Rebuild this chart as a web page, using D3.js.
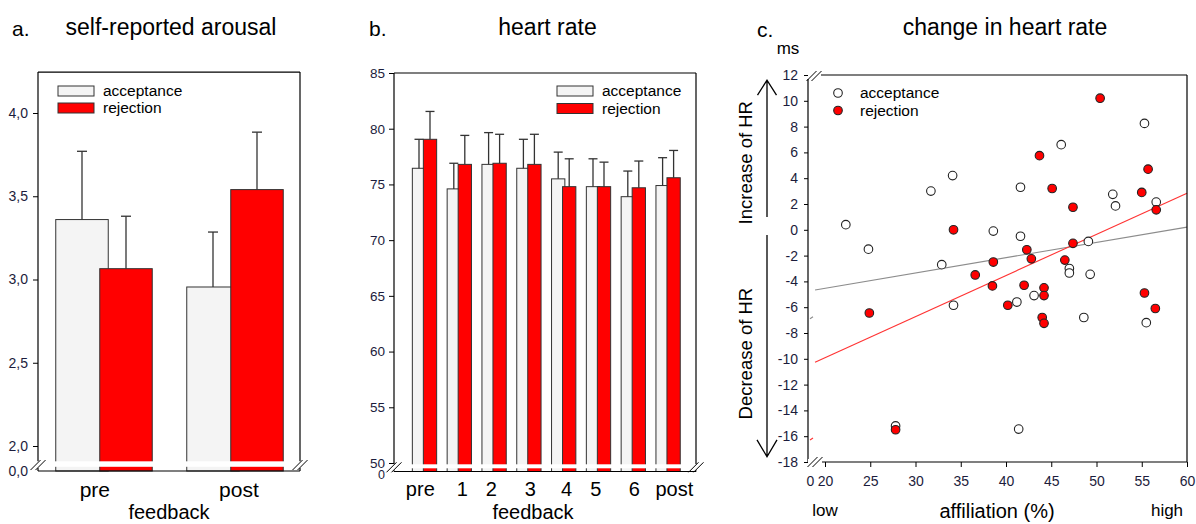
<!DOCTYPE html>
<html><head><meta charset="utf-8">
<script src="https://cdn.jsdelivr.net/npm/d3@7"></script>
<style>
body{margin:0;background:#fff}
svg{display:block}
text{font-family:"Liberation Sans",Arial,sans-serif;fill:#000}
.tick text{fill:#1c1c3c}
</style>
</head><body>
<svg id="c" width="1196" height="524"></svg>
<script>
// ---------- Panel a: self-reported arousal ----------
const groupsA = ["pre", "post"];
const arousalAcc = [3.36, 2.955];
const arousalAccErr = [0.41, 0.33];
const arousalRej = [3.065, 3.54];
const arousalRejErr = [0.315, 0.345];
const ticksA = [2.0, 2.5, 3.0, 3.5, 4.0];
const labelPosA = [-0.07, 1.03];

// ---------- Panel b: heart rate ----------
const groupsB = ["pre", "1", "2", "3", "4", "5", "6", "post"];
const hrAcc = [76.45, 74.6, 76.8, 76.45, 75.5, 74.8, 73.9, 74.9];
const hrAccErr = [2.6, 2.3, 2.85, 2.6, 2.4, 2.5, 2.3, 2.5];
const hrRej = [79.05, 76.8, 76.9, 76.8, 74.8, 74.8, 74.7, 75.6];
const hrRejErr = [2.5, 2.6, 2.6, 2.7, 2.5, 2.2, 2.4, 2.45];
const ticksB = [50, 55, 60, 65, 70, 75, 80, 85];
const labelPosB = [-0.12, 1.09, 1.92, 3.04, 4.08, 4.92, 6.03, 7.18];

// ---------- Panel c: change in heart rate ----------
const accX = [22.3, 24.8, 31.7, 32.9, 34.1, 34.2, 38.6, 41.6, 41.6, 41.2, 43.1, 46.1, 47.0, 47.0, 49.1, 49.3, 48.6, 51.8, 52.1, 55.3, 56.6, 55.5, 27.8, 41.4];
const accY = [0.4, -1.5, 3.0, -2.7, 4.2, -5.85, -0.1, 3.3, -0.5, -5.6, -5.1, 6.6, -3.0, -3.35, -0.9, -3.45, -6.8, 2.75, 1.85, 8.25, 2.15, -7.2, -15.2, -15.45];
const rejX = [24.9, 27.8, 34.2, 36.6, 38.5, 38.6, 40.2, 42.0, 42.3, 42.8, 43.7, 44.2, 44.2, 44.0, 44.2, 45.1, 46.5, 47.4, 47.4, 50.4, 55.0, 55.7, 56.6, 55.3, 56.5];
const rejY = [-6.45, -15.5, 0.0, -3.5, -4.35, -2.5, -5.85, -4.3, -1.55, -2.25, 5.75, -4.5, -5.1, -6.8, -7.25, 3.2, -2.35, 1.75, -1.05, 10.2, 2.9, 4.7, 1.55, -4.9, -6.1];
const fitAcc = {intercept: -6.9, slope: 0.1185};
const fitRej = {intercept: -16.29, slope: 0.3187};
const ticksCX = [20, 25, 30, 35, 40, 45, 50, 55, 60];
const ticksCY = d3.range(-18, 13, 2);

const ACC_FILL = "#f4f4f4", REJ_FILL = "#ff0000", EDGE = "#333";
const svg = d3.select("#c");

function breakMark(g, cx, cy) {
  g.append("rect").attr("x", cx - 7).attr("y", cy - 3).attr("width", 14).attr("height", 6).attr("fill", "#fff");
  [-2.5, 2.5].forEach(o => {
    g.append("line").attr("x1", cx + o - 5).attr("y1", cy + 5).attr("x2", cx + o + 5).attr("y2", cy - 5)
      .attr("stroke", "#000").attr("stroke-width", 1);
  });
}
function styleAxis(sel, fs) {
  sel.select(".domain").remove();
  sel.selectAll(".tick line").attr("stroke", "#000");
  sel.selectAll(".tick text").attr("font-size", fs).attr("font-family", '"Liberation Sans",Arial,sans-serif');
}

function barPanel(cfg) {
  const g = svg.append("g");
  const {x0, x1, top, bandRange, groups, acc, accErr, rej, rejErr, y, yZero, gapTop, gapBot, off, bw, cap, ticks, fmt, tickFS, pad, labelPos, labelFS, labelY, fbX, fbY, zeroLabel, zeroFS, zeroShift} = cfg;
  const xb = d3.scaleBand().domain(groups).range(bandRange);
  const xi = d3.scaleLinear().domain([0, groups.length - 1]).range([xb(groups[0]) + xb.bandwidth() / 2, xb(groups[groups.length - 1]) + xb.bandwidth() / 2]);
  const cxg = i => xb(groups[i]) + xb.bandwidth() / 2;

  acc.forEach((v, i) => {
    const c = cxg(i) - off;
    g.append("rect").attr("x", c - bw / 2).attr("y", y(v)).attr("width", bw).attr("height", yZero - y(v))
      .attr("fill", ACC_FILL).attr("stroke", EDGE).attr("stroke-width", 1);
    g.append("line").attr("x1", c).attr("x2", c).attr("y1", y(v)).attr("y2", y(v + accErr[i])).attr("stroke", EDGE).attr("stroke-width", 1.3);
    g.append("line").attr("x1", c - cap / 2).attr("x2", c + cap / 2).attr("y1", y(v + accErr[i])).attr("y2", y(v + accErr[i])).attr("stroke", EDGE).attr("stroke-width", 1.3);
  });
  rej.forEach((v, i) => {
    const c = cxg(i) + off;
    g.append("rect").attr("x", c - bw / 2).attr("y", y(v)).attr("width", bw).attr("height", yZero - y(v))
      .attr("fill", REJ_FILL).attr("stroke", EDGE).attr("stroke-width", 1);
    g.append("line").attr("x1", c).attr("x2", c).attr("y1", y(v)).attr("y2", y(v + rejErr[i])).attr("stroke", EDGE).attr("stroke-width", 1.3);
    g.append("line").attr("x1", c - cap / 2).attr("x2", c + cap / 2).attr("y1", y(v + rejErr[i])).attr("y2", y(v + rejErr[i])).attr("stroke", EDGE).attr("stroke-width", 1.3);
  });
  g.append("rect").attr("x", x0 + 1).attr("y", gapTop).attr("width", x1 - x0 - 2).attr("height", gapBot - gapTop).attr("fill", "#fff");

  const ln = (a, b, c, d) => g.append("line").attr("x1", a).attr("y1", b).attr("x2", c).attr("y2", d).attr("stroke", "#000").attr("stroke-width", 1.2);
  ln(x0, top, x1, top);
  ln(x0, top, x0, gapTop);
  ln(x0, gapBot, x0, yZero);
  ln(x1, top, x1, gapTop);
  ln(x1, gapBot, x1, yZero);
  ln(x0, yZero, x1, yZero);
  breakMark(g, x0, (gapTop + gapBot) / 2 + 1);
  breakMark(g, x1, (gapTop + gapBot) / 2 + 1);

  const ax = g.append("g").attr("transform", `translate(${x0},0)`)
    .call(d3.axisLeft(y).tickValues(ticks).tickFormat(fmt).tickSize(5).tickPadding(pad));
  styleAxis(ax, tickFS);
  const yLow = d3.scaleLinear().domain([0, 1]).range([yZero + zeroShift, yZero + zeroShift - 10]);
  const ax0 = g.append("g").attr("transform", `translate(${x0},0)`)
    .call(d3.axisLeft(yLow).tickValues([0]).tickFormat(() => zeroLabel).tickSize(0).tickPadding(pad + 5));
  styleAxis(ax0, zeroFS);

  groups.forEach((d, i) => {
    g.append("text").attr("x", xi(labelPos[i])).attr("y", labelY).attr("text-anchor", "middle").attr("font-size", labelFS).text(d);
  });
  g.append("text").attr("x", fbX).attr("y", fbY).attr("text-anchor", "middle").attr("font-size", 20).text("feedback");
  return g;
}

function legendBars(g, x, y1, y2) {
  [[ACC_FILL, "acceptance", y1], [REJ_FILL, "rejection", y2]].forEach(([f, t, yy]) => {
    g.append("rect").attr("x", x).attr("y", yy - 5).attr("width", 36).attr("height", 10).attr("fill", f).attr("stroke", EDGE).attr("stroke-width", 1);
    g.append("text").attr("x", x + 45).attr("y", yy).attr("dy", "0.35em").attr("font-size", 15.5).attr("fill", "#222").text(t);
  });
}

// ----- Panel a
const yA = d3.scaleLinear().domain([2, 4]).range([446, 113]);
const gA = barPanel({
  x0: 38, x1: 300, top: yA(4.246), bandRange: [38.5, 300.5], groups: groupsA,
  acc: arousalAcc, accErr: arousalAccErr, rej: arousalRej, rejErr: arousalRejErr,
  y: yA, yZero: 471, gapTop: yA(1.908), gapBot: 466.8, off: 22, bw: 52.5, cap: 10,
  ticks: ticksA, fmt: d => d.toFixed(1).replace(".", ","), tickFS: 14, pad: 5,
  labelPos: labelPosA, labelFS: 21, labelY: 497, fbX: 169, fbY: 519, zeroLabel: "0,0", zeroFS: 14, zeroShift: 0
});
legendBars(gA, 58, 91, 108);
svg.append("text").attr("x", 12).attr("y", 36).attr("font-size", 21).text("a.");
svg.append("text").attr("x", 171).attr("y", 35).attr("text-anchor", "middle").attr("font-size", 23).text("self-reported arousal");

// ----- Panel b
const yB = d3.scaleLinear().domain([50, 85]).range([463, 73]);
const gB = barPanel({
  x0: 394, x1: 696, top: yB(85), bandRange: [407.1, 685.5], groups: groupsB,
  acc: hrAcc, accErr: hrAccErr, rej: hrRej, rejErr: hrRejErr,
  y: yB, yZero: 471.5, gapTop: 464.3, gapBot: 468.3, off: 5.5, bw: 13.3, cap: 9,
  ticks: ticksB, fmt: d => String(d), tickFS: 13.5, pad: 4,
  labelPos: labelPosB, labelFS: 20, labelY: 496, fbX: 533, fbY: 519, zeroLabel: "0", zeroFS: 12.5, zeroShift: 2.5
});
legendBars(gB, 557, 91, 108.5);
svg.append("text").attr("x", 369).attr("y", 36).attr("font-size", 21).text("b.");
svg.append("text").attr("x", 547.5).attr("y", 35).attr("text-anchor", "middle").attr("font-size", 23).text("heart rate");

// ----- Panel c
const gC = svg.append("g");
const xC = d3.scaleLinear().domain([20, 60]).range([825, 1187]);
const xCLow = d3.scaleLinear().domain([0, 1]).range([810, 813]);
const yC = d3.scaleLinear().domain([-18, 12]).range([462, 75]);
const L = 808, R = 1187, T = yC(12), B = yC(-18);

[[fitAcc, "#8c8c8c"], [fitRej, "#ff3333"]].forEach(([f, col]) => {
  const fy = x => f.intercept + f.slope * x;
  gC.append("line").attr("x1", xC(18.9)).attr("y1", yC(fy(18.9))).attr("x2", xC(60)).attr("y2", yC(fy(60)))
    .attr("stroke", col).attr("stroke-width", 1.1);
  gC.append("line").attr("x1", xCLow(0)).attr("y1", yC(fy(0))).attr("x2", xCLow(1)).attr("y2", yC(fy(0)) - 2)
    .attr("stroke", col).attr("stroke-width", 1.1);
});

accX.forEach((x, i) => {
  gC.append("circle").attr("cx", xC(x)).attr("cy", yC(accY[i])).attr("r", 4.3)
    .attr("fill", "#fff").attr("stroke", "#222").attr("stroke-width", 1.1);
});
rejX.forEach((x, i) => {
  gC.append("circle").attr("cx", xC(x)).attr("cy", yC(rejY[i])).attr("r", 4.3)
    .attr("fill", REJ_FILL).attr("stroke", "#222").attr("stroke-width", 1.1);
});

const lc = (a, b, c, d) => gC.append("line").attr("x1", a).attr("y1", b).attr("x2", c).attr("y2", d).attr("stroke", "#000").attr("stroke-width", 1.2);
lc(L, T, R, T); lc(R, T, R, B); lc(L, T, L, B); lc(L, B, R, B);
breakMark(gC, L + 6, T + 1);
breakMark(gC, L + 7, B);

const axY = gC.append("g").attr("transform", `translate(${L},0)`)
  .call(d3.axisLeft(yC).tickValues(ticksCY).tickFormat(d => String(d)).tickSize(4).tickPadding(6));
styleAxis(axY, 14);
const axX = gC.append("g").attr("transform", `translate(0,${B})`)
  .call(d3.axisBottom(xC).tickValues(ticksCX).tickFormat(d => String(d)).tickSize(5).tickPadding(9));
styleAxis(axX, 14);
const axX0 = gC.append("g").attr("transform", `translate(0,${B})`)
  .call(d3.axisBottom(xCLow).tickValues([0]).tickFormat(() => "0").tickSize(0).tickPadding(14));
styleAxis(axX0, 14);

[["#fff", "acceptance", 93], [REJ_FILL, "rejection", 110.5]].forEach(([f, t, yy]) => {
  gC.append("circle").attr("cx", 838).attr("cy", yy).attr("r", 4.3).attr("fill", f).attr("stroke", "#222").attr("stroke-width", 1.1);
  gC.append("text").attr("x", 860).attr("y", yy).attr("dy", "0.35em").attr("font-size", 15.5).attr("fill", "#222").text(t);
});

gC.append("text").attr("transform", `translate(752,${yC(5.2)}) rotate(-90)`).attr("text-anchor", "middle").attr("font-size", 18.5).text("Increase of HR");
gC.append("text").attr("transform", `translate(752,${yC(-9.6)}) rotate(-90)`).attr("text-anchor", "middle").attr("font-size", 18.5).text("Decrease of HR");
const arX = 767;
gC.append("path").attr("d", `M${arX},${yC(1)}V${yC(11.6)}M${arX - 9.5},${yC(11.6) + 15}L${arX},${yC(11.6)}L${arX + 9.5},${yC(11.6) + 15}`)
  .attr("fill", "none").attr("stroke", "#000").attr("stroke-width", 1.3);
gC.append("path").attr("d", `M${arX},${yC(-0.4)}V${yC(-17.6)}M${arX - 10},${yC(-17.6) - 17}L${arX},${yC(-17.6)}L${arX + 10},${yC(-17.6) - 17}`)
  .attr("fill", "none").attr("stroke", "#000").attr("stroke-width", 1.3);

gC.append("text").attr("x", 788).attr("y", 54).attr("text-anchor", "middle").attr("font-size", 17).text("ms");
gC.append("text").attr("x", 825).attr("y", 516).attr("text-anchor", "middle").attr("font-size", 17).text("low");
gC.append("text").attr("x", 1167).attr("y", 516).attr("text-anchor", "middle").attr("font-size", 17).text("high");
gC.append("text").attr("x", 997).attr("y", 518).attr("text-anchor", "middle").attr("font-size", 20).text("affiliation (%)");

svg.append("text").attr("x", 757).attr("y", 37).attr("font-size", 21).text("c.");
svg.append("text").attr("x", 1005).attr("y", 35).attr("text-anchor", "middle").attr("font-size", 23).text("change in heart rate");
</script>
</body></html>
